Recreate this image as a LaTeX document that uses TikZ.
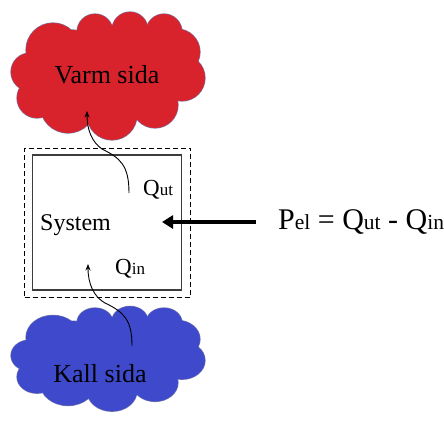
\documentclass[tikz,border=0pt]{standalone}
\usepackage{fontspec}
\setmainfont{Liberation Serif}
\usetikzlibrary{arrows.meta}

\definecolor{warmred}{RGB}{216,34,44}
\definecolor{coldblue}{RGB}{62,73,203}
\definecolor{puffedge}{RGB}{120,122,170}
\definecolor{boxgray}{RGB}{60,60,60}

% puffs of a cloud: centre offset x, y and radius
\newcommand\puffset{-77/-3/19, -54/-25/27, -12/-43/18, 23/-45/18, 57/-43/18,
  70/-23/23, 75/3/23, 48/30/23, 5/40/25, -39/30/28, -70/23/20,
  0/0/50, 35/-20/30, -35/-15/30, 35/15/30, -30/15/30, -55/2/22, 55/0/22}
\newcommand\drawpuffcloud[1]{%
  \foreach \px/\py/\pr in \puffset {\draw[puffedge, line width=1.2] (\px,\py) circle[radius=\pr];}
  \foreach \px/\py/\pr in \puffset {\fill[#1] (\px,\py) circle[radius=\pr];}
}

\tikzset{
  bigtext/.style={inner sep=0, font=\fontsize{26}{30}\selectfont},
  qtext/.style={inner sep=0, anchor=base west, font=\fontsize{23}{26}\selectfont},
  heatflow/.style={black, line width=0.9, -{Stealth[length=6.5pt,width=5pt]}},
  powerflow/.style={black, line width=4, -{Triangle[length=11pt,width=13pt]}},
  sysbox/.style={draw=boxgray, line width=1.4, minimum width=149, minimum height=135, inner sep=0},
  boundary/.style={draw=black, line width=0.9, dash pattern=on 5pt off 3pt, minimum width=166, minimum height=149, inner sep=0}
}
\newcommand\smallsub[1]{{\fontsize{17}{20}\selectfont #1}}
\newcommand\eqsub[1]{{\fontsize{21.5}{24}\selectfont #1}}

\begin{document}
\begin{tikzpicture}[x=1pt, y=-1pt]
  \useasboundingbox (0,0) rectangle (444,428);
  \fill[white] (0,0) rectangle (444,428);

  % warm and cold reservoirs
  \begin{scope}[shift={(107,75)}]
    \drawpuffcloud{warmred}
  \end{scope}
  \begin{scope}[shift={(107,358)}, yscale=0.82]
    \drawpuffcloud{coldblue}
  \end{scope}
  \node[bigtext] (warm) at (107,75) {Varm sida};
  \node[bigtext] (cold) at (100,374) {Kall sida};

  % system and its boundary
  \node[boundary] (bound) at (107.5,222.5) {};
  \node[sysbox] (box) at (107,222.5) {};
  \node[inner sep=0, anchor=base west, font=\fontsize{24}{28}\selectfont] (sys) at (40,230) {System};
  \node[qtext] (qut) at (143,195) {Q\smallsub{ut}};
  \node[qtext] (qin) at (115,274) {Q\smallsub{in}};

  % heat flows
  \coordinate (utstart) at (129,193);
  \coordinate (utend) at (87,111);
  \coordinate (instart) at (132,346);
  \coordinate (inend) at (88,264);
  \draw[heatflow] (utstart) .. controls (129,165) and (120,158) .. (102,149)
                 .. controls (92,142) and (87,130) .. (utend);
  \draw[heatflow] (instart) .. controls (132,320) and (124,312) .. (105,303)
                 .. controls (94,297) and (88,284) .. (inend);

  % electric power
  \node[inner sep=0, anchor=base west, font=\fontsize{30}{32}\selectfont] (eq) at (278,229)
    {P\eqsub{el} = Q\eqsub{ut} - Q\eqsub{in}};
  \coordinate (pstart) at (256,222);
  \coordinate (pend) at (162,222);
  \draw[powerflow] (pstart) -- (pend);
\end{tikzpicture}
\end{document}
